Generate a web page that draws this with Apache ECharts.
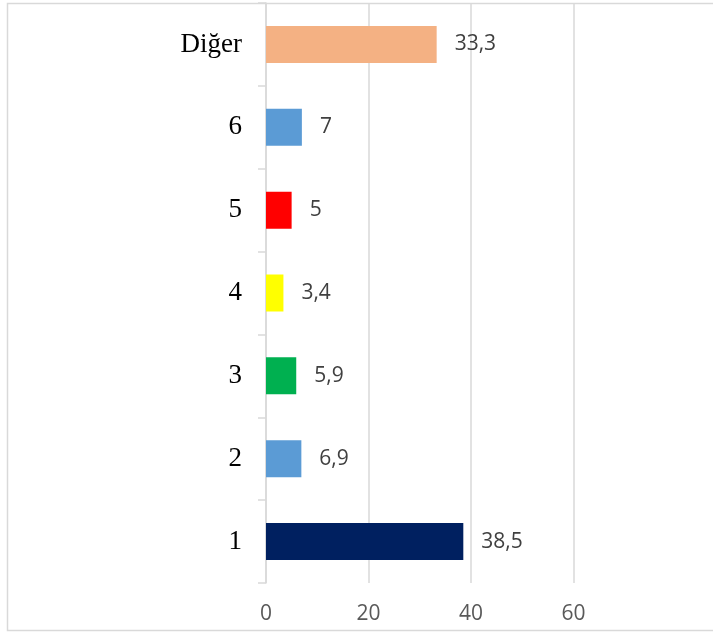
<!DOCTYPE html>
<html>
<head>
<meta charset="utf-8">
<script src="https://cdn.jsdelivr.net/npm/echarts@6/dist/echarts.min.js"></script>
<style>
  html, body { margin: 0; padding: 0; background: #ffffff; }
  #chart { width: 713px; height: 637px; }
</style>
</head>
<body>
<div id="chart"></div>
<script>
// Categories listed bottom-to-top as the bar axis draws them
const categories = ['1', '2', '3', '4', '5', '6', 'Diğer'];
const values = [38.5, 6.9, 5.9, 3.4, 5, 7, 33.3];
const barColors = ['#002060', '#5B9BD5', '#00B050', '#FFFF00', '#FF0000', '#5B9BD5', '#F4B183'];
const valueTicks = [0, 20, 40, 60];

const chart = echarts.init(document.getElementById('chart'), null, { renderer: 'canvas' });

const option = {
  backgroundColor: '#ffffff',
  animation: false,
  graphic: [{
    type: 'rect',
    silent: true,
    z: -10,
    shape: { x: 7.5, y: 3.5, width: 720, height: 627 },
    style: { fill: 'none', stroke: '#d9d9d9', lineWidth: 1.5 }
  }],
  grid: { left: 266, top: 3, width: 307.5, height: 580, containLabel: false },
  xAxis: {
    type: 'value',
    min: valueTicks[0],
    max: valueTicks[valueTicks.length - 1],
    interval: valueTicks[1] - valueTicks[0],
    axisLine: { show: false },
    axisTick: { show: false },
    axisLabel: {
      margin: 21,
      color: '#595959',
      fontFamily: 'Open Sans',
      fontSize: 21
    },
    splitLine: { show: true, lineStyle: { color: '#d9d9d9', width: 1.5 } }
  },
  yAxis: {
    type: 'category',
    data: categories,
    axisLine: { show: true, lineStyle: { color: '#d9d9d9', width: 1.5 } },
    axisTick: { show: true, length: 8, lineStyle: { color: '#d9d9d9', width: 1.5 } },
    axisLabel: {
      margin: 24,
      color: '#000000',
      fontFamily: 'Liberation Serif',
      fontSize: 27
    }
  },
  series: [{
    type: 'bar',
    barWidth: 37,
    data: values.map((v, i) => ({ value: v, itemStyle: { color: barColors[i] } })),
    label: {
      show: true,
      position: 'right',
      distance: 18,
      color: '#404040',
      fontFamily: 'Open Sans',
      fontSize: 21,
      formatter: p => String(p.value).replace('.', ',')
    }
  }]
};

chart.setOption(option);
</script>
</body>
</html>
